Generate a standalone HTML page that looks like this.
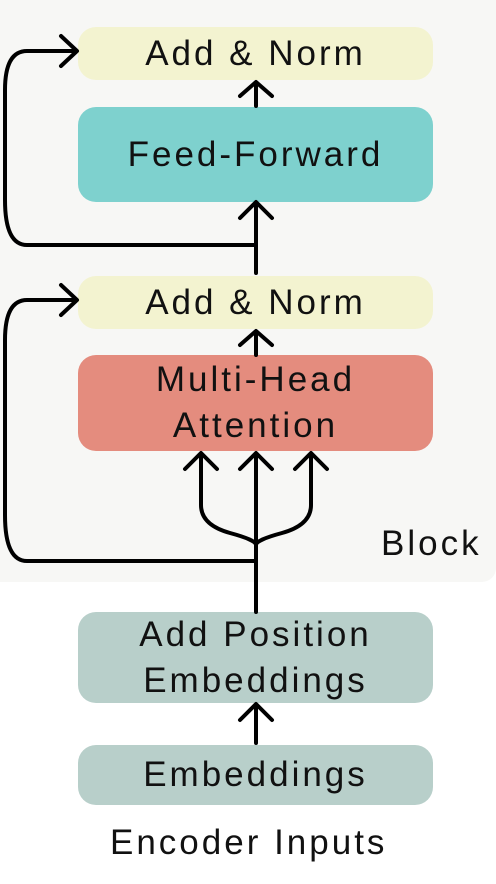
<!DOCTYPE html>
<html><head><style>
body{margin:0;width:496px;height:884px;background:#fff;position:relative;overflow:hidden;font-family:"Liberation Sans",sans-serif;}
.bg{position:absolute;left:-20px;top:-20px;width:516px;height:602px;background:#f7f7f5;border-radius:0 0 14px 14px;}
.b{position:absolute;left:78px;width:355px;border-radius:18px;display:flex;align-items:center;justify-content:center;text-align:center;font-size:35px;letter-spacing:3px;line-height:46px;color:#111;white-space:nowrap;}
.t{position:absolute;font-size:35px;letter-spacing:3px;color:#111;white-space:nowrap;}
svg{position:absolute;left:0;top:0;}
</style></head><body>
<div class="bg"></div>
<div class="b" style="top:27px;height:53px;background:#f3f3d0">Add &amp; Norm</div>
<div class="b" style="top:107px;height:95px;background:#7ed1ce">Feed-Forward</div>
<div class="b" style="top:276px;height:53px;background:#f3f3d0">Add &amp; Norm</div>
<div class="b" style="top:355px;height:96px;background:#e48c7e">Multi-Head<br>Attention</div>
<div class="b" style="top:612px;height:91px;background:#b8cfca">Add Position<br>Embeddings</div>
<div class="b" style="top:745px;height:60px;background:#b8cfca">Embeddings</div>
<div class="t" style="left:381px;top:524px">Block</div>
<div class="t" style="left:110px;top:823px">Encoder Inputs</div>
<svg width="496" height="884" fill="none" stroke="#000" stroke-width="4" stroke-linecap="round" stroke-linejoin="round">
<path d="M256 273V205M240 218L256 202L272 218"/>
<path d="M256 106V83M240 96L256 82L272 96"/>
<path d="M256 245H27Q5 245 5 200V90Q5 51 27 51H76M61 36L77 51L61 66"/>
<path d="M256 355V332M240 345L256 331L272 345"/>
<path d="M256 612V455M240 469L256 453L272 469"/>
<path d="M201 455V505Q201 525 230 533Q256 540 256 545M185 469L201 453L217 469"/>
<path d="M311 455V505Q311 525 282 533Q256 540 256 545M295 469L311 453L327 469"/>
<path d="M256 561H27Q5 561 5 515V340Q5 300 27 300H76M61 285L77 300L61 315"/>
<path d="M256 743V706M240 720L256 704L272 720"/>
</svg>
</body></html>
